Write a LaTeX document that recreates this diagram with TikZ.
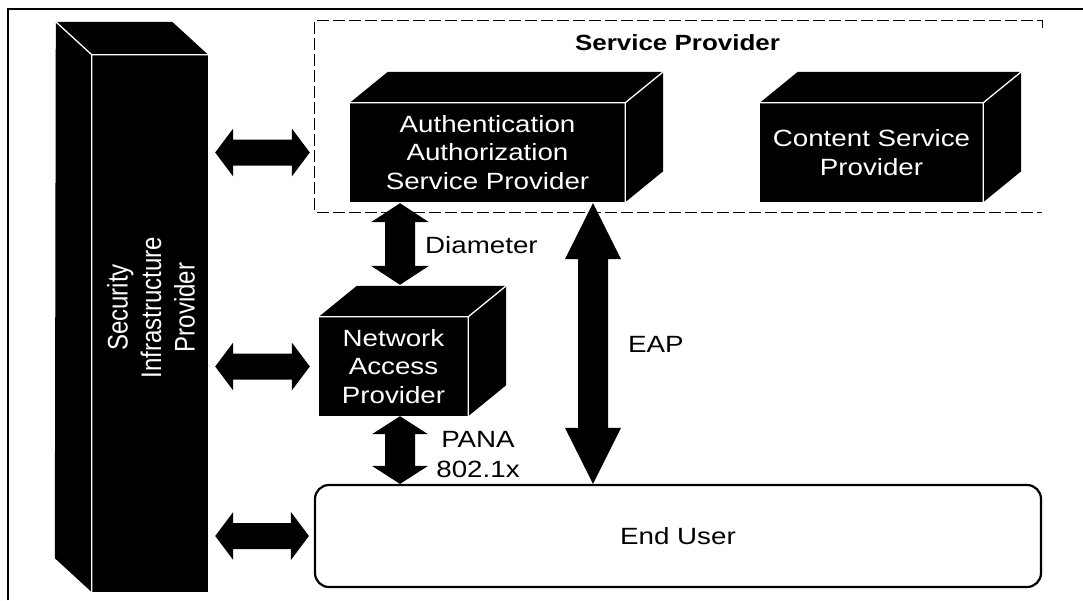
\documentclass[tikz,border=0pt]{standalone}
\usepackage{fontspec}
\setmainfont{Liberation Sans}[FakeStretch=1.18]
\newfontfamily\tallsans{Liberation Sans}[FakeStretch=0.85]
\usetikzlibrary{calc}

% filled double-headed block arrow from #1 to #2
% #3 head length, #4 head half width, #5 shaft half width
\newcommand\dblarrow[5]{%
  \fill[black] (#1)
    -- ($(#1)!#3!(#2)!#4!90:(#2)$) -- ($(#1)!#3!(#2)!#5!90:(#2)$)
    -- ($(#2)!#3!(#1)!#5!-90:(#1)$) -- ($(#2)!#3!(#1)!#4!-90:(#1)$)
    -- (#2)
    -- ($(#2)!#3!(#1)!#4!90:(#1)$) -- ($(#2)!#3!(#1)!#5!90:(#1)$)
    -- ($(#1)!#3!(#2)!#5!-90:(#2)$) -- ($(#1)!#3!(#2)!#4!-90:(#2)$)
    -- cycle;}

% top and right faces of a block whose front face is node #1
\newcommand\blockfaces[1]{%
  \fill[black] (#1.north west) -- ++(38pt,31pt) -- ($(#1.north east)+(38pt,31pt)$)
    -- ($(#1.south east)+(38pt,31pt)$) -- (#1.south east) -- (#1.north east) -- cycle;
  \draw[edge] (#1.north west) -- (#1.north east) -- (#1.south east)
    (#1.north east) -- ++(38pt,31pt);}

\tikzset{
  boxfont/.style={font=\fontsize{23.5}{28.5}\selectfont},
  face/.style={fill=black, text=white, inner sep=0pt, align=center, boxfont},
  edge/.style={draw=white, line width=1.3pt},
  label/.style={inner sep=0pt, boxfont},
  dashbox/.style={draw=black, line width=1.3pt, dash pattern=on 12pt off 4pt},
  userbox/.style={draw=black, line width=2.2pt, rounded corners=14pt, inner sep=0pt,
    minimum width=726pt, minimum height=102pt, boxfont},
}

\begin{document}
\begin{tikzpicture}[x=1pt,y=-1pt]
\useasboundingbox (0,0) rectangle (1083,600);

% page frame
\draw[line width=2pt] (8,600) -- (8,9) -- (1083,9);

% security infrastructure provider column
\node[face, minimum width=116pt, minimum height=537pt] (sip) at (150,323.5) {};
\fill[black] (sip.north east) -- ++(-36pt,33pt) -- ($(sip.north west)+(-36pt,33pt)$)
  -- ($(sip.south west)+(-37pt,34pt)$) -- (sip.south west) -- (sip.north west) -- cycle;
\draw[edge] (sip.north east) -- (sip.north west) -- (sip.south west)
  (sip.north west) -- ++(-36pt,33pt);
\node[text=white, inner sep=0pt, align=center, rotate=90,
  font=\tallsans\fontsize{28.3}{33.5}\selectfont] (sipl) at (151,307.5)
  {Security\\Infrastructure\\Provider};

% service provider group
\node[inner sep=0pt, minimum width=727pt, minimum height=191pt] (sp) at (678.5,116.5) {};
\draw[dashbox] ($(sp.north east)+(0,-7pt)$) -- (sp.north east) -- (sp.north west)
  -- (sp.south west) -- (sp.south east);
\node[inner sep=0pt, anchor=base, font=\bfseries\fontsize{22}{26}\selectfont] (spt)
  at (677.5,50) {Service Provider};

% blocks
\node[face, minimum width=275pt, minimum height=99pt] (aasp) at (487.5,152.5)
  {Authentication\\Authorization\\Service Provider};
\blockfaces{aasp}
\node[face, minimum width=223pt, minimum height=99pt] (csp) at (871.5,152.5)
  {Content Service\\Provider};
\blockfaces{csp}
\node[face, minimum width=149pt, minimum height=99pt] (nap) at (393.5,366.5)
  {Network\\Access\\Provider};
\blockfaces{nap}

% end user
\node[userbox] (eu) at (678,536) {End User};

% arrow end points
\coordinate (l1a) at ($(sip.east |- aasp.center)+(7pt,0)$);
\coordinate (l1b) at ($(sp.west |- aasp.center)+(-5pt,0)$);
\coordinate (l2a) at ($(sip.east |- nap.center)+(7pt,0)$);
\coordinate (l2b) at ($(nap.west)+(-9pt,0)$);
\coordinate (l3a) at ($(sip.east |- eu.center)+(7pt,0)$);
\coordinate (l3b) at ($(eu.west)+(-5pt,0)$);
\coordinate (dcol) at (400,0);
\coordinate (ecol) at (593,0);
\coordinate (d1) at ($(dcol |- aasp.south)+(0,-1pt)$);
\coordinate (d2) at ($(dcol |- nap.north)+(0,32pt)$);
\coordinate (p1) at (dcol |- nap.south);
\coordinate (p2) at (dcol |- eu.north);
\coordinate (e1) at ($(ecol |- aasp.south)+(0,-1pt)$);
\coordinate (e2) at (ecol |- eu.north);

% block arrows
\dblarrow{l1a}{l1b}{18pt}{24pt}{13pt}
\dblarrow{l2a}{l2b}{18pt}{24pt}{13pt}
\dblarrow{l3a}{l3b}{18pt}{24pt}{13pt}
\dblarrow{d1}{d2}{19pt}{29pt}{15pt}
\dblarrow{p1}{p2}{18pt}{28pt}{15pt}
\dblarrow{e1}{e2}{56pt}{28pt}{15pt}

% protocol labels
\node[label, anchor=base west] (diam) at (425,253) {Diameter};
\node[label, anchor=base west] (eap) at (628,352) {EAP};
\node[label, anchor=base] (pana) at (478,447) {PANA};
\node[label, anchor=base] (dot1x) at (478,477) {802.1x};
\end{tikzpicture}
\end{document}
